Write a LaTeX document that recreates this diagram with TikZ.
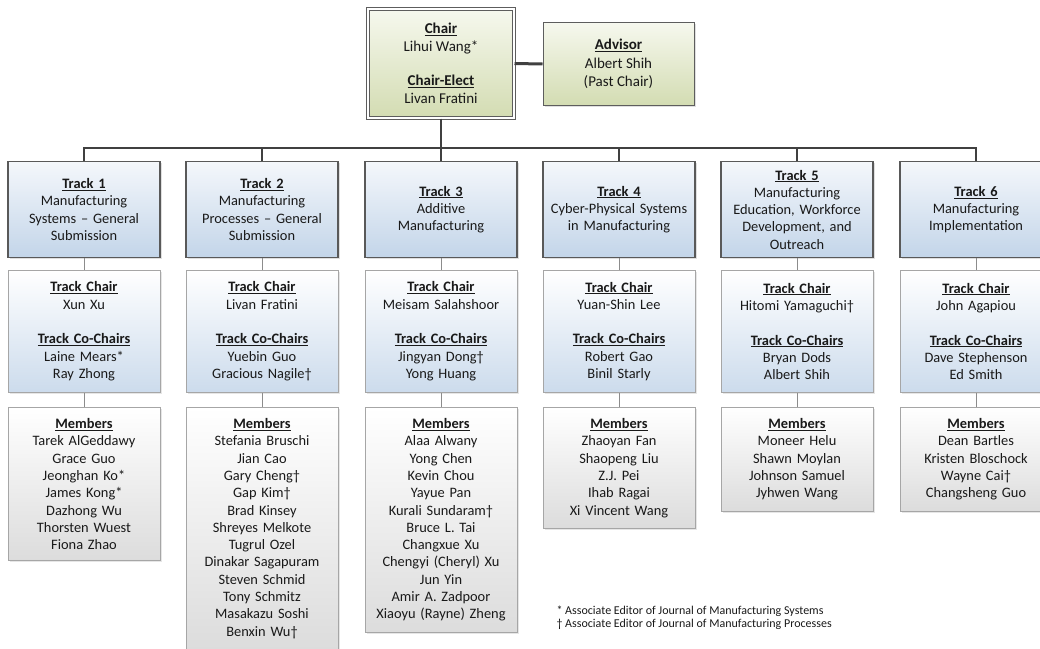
\documentclass[tikz,border=0pt]{standalone}
\usepackage{fontspec}
\setmainfont{Carlito}
\usetikzlibrary{shadows}

\definecolor{linedark}{HTML}{404040}
\definecolor{linegrey}{HTML}{8C8C8C}
\definecolor{greentop}{HTML}{F6F8EE}
\definecolor{greenbot}{HTML}{D3DCB2}
\definecolor{bluetop}{HTML}{F4F7FB}
\definecolor{bluebot}{HTML}{C3D5E9}
\definecolor{greybot}{HTML}{DCDCDC}

\newcommand{\hd}[1]{\underline{\textbf{#1}}}

\begin{document}
\begin{tikzpicture}[x=1pt, y=-1pt,
		every node/.style={font=\fontsize{14.4}{17.3}\selectfont, text=black!90},
		topbox/.style={draw=linedark!85, line width=1pt, top color=greentop, bottom color=greenbot, align=center, font=\fontsize{15}{18.5}\selectfont, drop shadow={opacity=0.25, shadow xshift=1.5pt, shadow yshift=-1.5pt}},
		trackbox/.style={draw=black!65, line width=1.2pt, top color=bluetop, bottom color=bluebot, text width=142pt, inner xsep=5pt, minimum height=96pt, align=center, anchor=north, drop shadow={opacity=0.25, shadow xshift=1.5pt, shadow yshift=-1.5pt}},
		chairbox/.style={draw=black!35, line width=0.8pt, top color=white, bottom color=bluebot!85, text width=142pt, inner xsep=5pt, minimum height=122pt, align=center, anchor=north, drop shadow={opacity=0.2, shadow xshift=1.5pt, shadow yshift=-1.5pt}},
		memberbox/.style={draw=black!35, line width=0.8pt, top color=white, bottom color=greybot, text width=142pt, inner xsep=5pt, inner ysep=11pt, align=center, anchor=north, drop shadow={opacity=0.2, shadow xshift=1.5pt, shadow yshift=-1.5pt}},
		bus/.style={draw=linedark, line width=2.6pt},
		link/.style={draw=linegrey, line width=1pt}]
			\useasboundingbox (0,0) rectangle (1040,648);
			\clip (0,0) rectangle (1040,648);
			
			% top of the committee
			\node[topbox, minimum width=146pt, minimum height=109pt, double=white, double distance=1.2pt] (chair) at (441,63.5) {\hd{Chair}\\Lihui Wang*\\[15pt]\hd{Chair-Elect}\\Livan Fratini};
			\node[topbox, minimum width=151pt, minimum height=83pt] (advisor) at (618.5,64) {\hd{Advisor}\\Albert Shih\\(Past Chair)};
			
			% tracks
			\node[trackbox] (t1) at (84,161) {\hd{Track 1}\\Manufacturing\\Systems -- General\\Submission};
			\node[trackbox] (t2) at (262,161) {\hd{Track 2}\\Manufacturing\\Processes -- General\\Submission};
			\node[trackbox] (t3) at (441,161) {\hd{Track 3}\\Additive\\Manufacturing};
			\node[trackbox] (t4) at (619,161) {\hd{Track 4}\\Cyber-Physical Systems\\in Manufacturing};
			\node[trackbox] (t5) at (797,161) {\hd{Track 5}\\Manufacturing\\Education, Workforce\\Development, and\\Outreach};
			\node[trackbox] (t6) at (976,161) {\hd{Track 6}\\Manufacturing\\Implementation};
			
			% track chairs
			\node[chairbox] (c1) at (84,270) {\hd{Track Chair}\\Xun Xu\\[17.3pt]\hd{Track Co-Chairs}\\Laine Mears*\\Ray Zhong};
			\node[chairbox] (c2) at (262,270) {\hd{Track Chair}\\Livan Fratini\\[17.3pt]\hd{Track Co-Chairs}\\Yuebin Guo\\Gracious Nagile\textdagger};
			\node[chairbox] (c3) at (441,270) {\hd{Track Chair}\\Meisam Salahshoor\\[17.3pt]\hd{Track Co-Chairs}\\Jingyan Dong\textdagger\\Yong Huang};
			\node[chairbox] (c4) at (619,270) {\hd{Track Chair}\\Yuan-Shin Lee\\[17.3pt]\hd{Track Co-Chairs}\\Robert Gao\\Binil Starly};
			\node[chairbox] (c5) at (797,270) {\hd{Track Chair}\\Hitomi Yamaguchi\textdagger\\[17.3pt]\hd{Track Co-Chairs}\\Bryan Dods\\Albert Shih};
			\node[chairbox] (c6) at (976,270) {\hd{Track Chair}\\John Agapiou\\[17.3pt]\hd{Track Co-Chairs}\\Dave Stephenson\\Ed Smith};
			
			% members
			\node[memberbox] (m1) at (84,407) {\hd{Members}\\Tarek AlGeddawy\\Grace Guo\\Jeonghan Ko*\\James Kong*\\Dazhong Wu\\Thorsten Wuest\\Fiona Zhao};
			\node[memberbox] (m2) at (262,407) {\hd{Members}\\Stefania Bruschi\\Jian Cao\\Gary Cheng\textdagger\\Gap Kim\textdagger\\Brad Kinsey\\Shreyes Melkote\\Tugrul Ozel\\Dinakar Sagapuram\\Steven Schmid\\Tony Schmitz\\Masakazu Soshi\\Benxin Wu\textdagger};
			\node[memberbox] (m3) at (441,407) {\hd{Members}\\Alaa Alwany\\Yong Chen\\Kevin Chou\\Yayue Pan\\Kurali Sundaram\textdagger\\Bruce L. Tai\\Changxue Xu\\Chengyi (Cheryl) Xu\\Jun Yin\\Amir A. Zadpoor\\Xiaoyu (Rayne) Zheng};
			\node[memberbox] (m4) at (619,407) {\hd{Members}\\Zhaoyan Fan\\Shaopeng Liu\\Z.J. Pei\\Ihab Ragai\\Xi Vincent Wang};
			\node[memberbox] (m5) at (797,407) {\hd{Members}\\Moneer Helu\\Shawn Moylan\\Johnson Samuel\\Jyhwen Wang};
			\node[memberbox] (m6) at (976,407) {\hd{Members}\\Dean Bartles\\Kristen Bloschock\\Wayne Cai\textdagger\\Changsheng Guo};
			
			\node[anchor=north west, align=left, font=\fontsize{12}{13}\selectfont] (notes) at (553,602) {* Associate Editor of Journal of Manufacturing Systems\\\textdagger{} Associate Editor of Journal of Manufacturing Processes};
			
			% connectors
			\coordinate (bus) at (441,148);
			\draw[bus, line width=3pt] (chair.east) -- (advisor.west);
			\draw[bus] (chair.south) -- (bus);
			\draw[bus] (t1.north) |- (bus) -| (t6.north);
			\foreach \i in {2,...,5}
				\draw[bus] (t\i.north) -- (t\i.north |- bus);
			\foreach \i in {1,...,6} {
				\draw[link] (t\i) -- (c\i);
				\draw[link] (c\i) -- (m\i);
			}
			
		\end{tikzpicture}
\end{document}
